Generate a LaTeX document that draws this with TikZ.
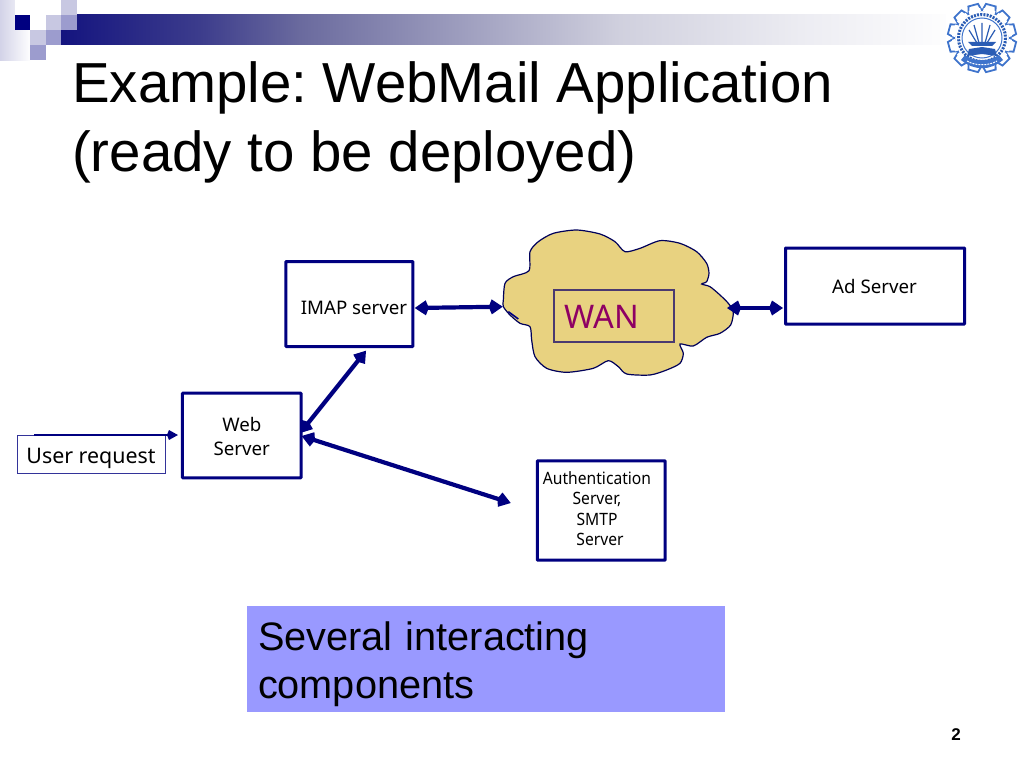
\documentclass[tikz,border=0pt]{standalone}
\usepackage{fontspec}
\setmainfont{Liberation Sans}
\newfontfamily\labelfont{Noto Sans}
\newfontfamily\narrowfont[FakeStretch=0.92]{Noto Sans}
\usetikzlibrary{arrows.meta}
\frenchspacing
\definecolor{navyline}{HTML}{000080}
\definecolor{sqlight}{HTML}{C8C8E2}
\definecolor{sqmid}{HTML}{9C9CCE}
\definecolor{cloudfill}{HTML}{E8D280}
\definecolor{wanred}{HTML}{8E0063}
\definecolor{notefill}{HTML}{9999FF}
\definecolor{logoblue}{HTML}{3F74CC}
\definecolor{logodark}{HTML}{2A5CB4}
\definecolor{wanline}{HTML}{4A3A70}
\definecolor{barA}{HTML}{14147F}
\definecolor{barB}{HTML}{3C3C8C}
\definecolor{barC}{HTML}{6A6A9E}
\definecolor{barD}{HTML}{D0D0DE}
\definecolor{barE}{HTML}{ECECF2}
\pgfdeclarehorizontalshading{barshade}{100bp}{color(0bp)=(barA); color(25bp)=(barA); color(32.2bp)=(barB); color(37.4bp)=(barC); color(54bp)=(barD); color(63.4bp)=(barE); color(71.7bp)=(white); color(100bp)=(white)}
\tikzset{
  srv/.style={draw=navyline,line width=3pt,inner sep=0pt,rounded corners=0.6pt},
  lab/.style={font=\labelfont\fontsize{18.7}{24}\selectfont,align=center,text=black,inner sep=0pt},
  dbl/.style={draw=navyline,line width=4.2pt,{Kite[length=14pt,width=15pt,inset=3pt]}-{Kite[length=14pt,width=15pt,inset=3pt]}},
  titletext/.style={font=\fontsize{56.4}{68.5}\selectfont,align=left,anchor=north west,inner sep=0pt,text=black},
}
\begin{document}
\begin{tikzpicture}[x=1pt,y=-1pt]
\useasboundingbox (0,0) rectangle (1024,768);
\fill[white] (0,0) rectangle (1024,768);
% decoration
\shade[left color=sqlight!80!white,right color=white] (0,0) rectangle (31,60);
\shade[shading=barshade] (61,15) rectangle (1024,45);
\fill[white] (15,0) rectangle (61,15);
\fill[white] (30,15) rectangle (46,30);
\fill[navyline] (15,15) rectangle (30,30);
\fill[sqlight] (46,15) rectangle (61,30);
\fill[sqmid] (61,15) rectangle (77,30);
\fill[sqlight] (61,0) rectangle (77,15);
\fill[sqlight] (30,30) rectangle (46,45);
\fill[sqmid] (46,30) rectangle (61,45);
\fill[sqmid] (30,45) rectangle (46,60);
% logo
\begin{scope}[shift={(982,38)}]
  \fill[white] (-36,-37) rectangle (36,38);
  \foreach \a in {0,30,...,330}{
    \draw[logoblue,line width=1.8pt,fill=white,rotate=\a+15] (-7,-26) -- (-5,-34) -- (5,-34) -- (7,-26);
  }
  \draw[logoblue,line width=1.8pt,fill=white] (0,0) circle (27.5);
  \fill[white] (0,0) circle (26.6);
  \foreach \a in {0,30,...,330}{
    \fill[white,rotate=\a+15] (-6,-29.5) rectangle (6,-26);
  }
  \draw[logodark,line width=3pt,dash pattern=on 2pt off 1.2pt] (0,0) circle (23.5);
  \draw[logoblue,line width=1pt] (0,0) circle (20);
  \draw[logodark,line width=1.2pt] (0,5) -- (0,-15) (-3,5) -- (-8,-13) (3,5) -- (8,-13) (-5,5) -- (-13,-8) (5,5) -- (13,-8);
  \fill[logodark] (-14,4) -- (14,4) -- (10,8) -- (-10,8) -- cycle;
  \fill[logodark] (-13,11) -- (0,9) -- (13,11) -- (15,18) -- (0,16) -- (-15,18) -- cycle;
  \fill[logoblue] (-21,22) .. controls (-8,33) and (8,33) .. (21,22) -- (17,17) .. controls (8,24) and (-8,24) .. (-17,17) -- cycle;
  \draw[white,line width=1pt,dash pattern=on 2pt off 1pt] (-15,23) .. controls (-7,28) and (7,28) .. (15,23);
\end{scope}
% title
\node[titletext] (title) at (72,61.7) {Example: WebMail Application\\(ready to be deployed)};
% cloud
\begin{scope}[shift={(490,220)},x=0.3333pt,y=-0.3333pt]
\draw[draw=navyline!70!black,line width=1.2pt,fill=cloudfill] plot[smooth cycle,tension=0.45] coordinates {
(40,240)(45,190)(70,170)(117,152)(120,95)(145,65)(190,40)(260,30)(330,42)(375,65)(405,95)(450,85)(510,62)(570,70)(620,95)(650,130)(657,160)(650,185)(635,192)(660,200)(690,225)(715,250)(730,275)(722,315)(690,340)(650,352)(610,378)(570,372)(580,400)(570,430)(530,450)(480,465)(410,462)(385,440)(355,422)(310,445)(230,457)(170,445)(135,410)(125,360)(120,320)(90,310)(60,285)(40,260)};
\draw[navyline,line width=1.6pt] (55,275) -- (85,297);
\end{scope}
\coordinate (cloudw) at (502.7,306.7);
\coordinate (cloude) at (727,308);
\coordinate (authend) at (510.7,503);
\coordinate (imapend) at (366,350.7);
\node[draw=wanline,line width=1.2pt,minimum width=120pt,minimum height=52pt,inner sep=0pt,label={[name=wantext,inner sep=0pt,text=wanred,font=\labelfont\fontsize{32.5}{36}\selectfont,xshift=-12.5pt,yshift=-0.5pt]center:WAN}] (wan) at (614,316) {};
% servers
\node[srv,minimum width=127pt,minimum height=85pt,label={[lab,name=imaptext,xshift=4.7pt,yshift=-4pt]center:IMAP server}] (imap) at (349.3,304) {};
\node[srv,minimum width=179pt,minimum height=76pt,label={[lab,name=adtext,xshift=-0.5pt,yshift=0pt]center:Ad Server}] (ad) at (875,286) {};
\node[srv,minimum width=118.7pt,minimum height=84.6pt,label={[lab,name=webtext,yshift=-0.5pt]center:Web\\Server}] (web) at (241.8,435.5) {};
\node[srv,minimum width=127.7pt,minimum height=99.4pt,label={[lab,name=authtext,xshift=-4.3pt,yshift=2pt,font=\narrowfont\fontsize{17}{20.4}\selectfont]center:Authentication\\Server,\\SMTP\\\hspace{6pt}Server}] (auth) at (601.3,510.5) {};
\node[draw=navyline!80!white,line width=1pt,minimum width=148pt,minimum height=38pt,inner sep=0pt,label={[name=usertext,inner sep=0pt,font=\labelfont\fontsize{21.4}{26}\selectfont,yshift=-4.5pt]center:User request}] (user) at (91,454) {};
% connectors
\path (imap.east) ++(0.5,4) coordinate (imapr);
\draw[dbl] (imapr) -- (cloudw);
\path (web.east) ++(-2.5,-2.5) coordinate (webu);
\draw[dbl] (webu) -- (imapend);
\path (web.east) ++(-1,0.5) coordinate (webd);
\draw[dbl] (webd) -- (authend);
\path (ad.west) ++(-1,22) coordinate (adl);
\draw[dbl] (adl) -- (cloude);
\path (user.north) ++(-57,0.5) coordinate (userst);
\path (user.north -| web.west) ++(-3,0.5) coordinate (userend);
\draw[navyline,line width=1.6pt,-{Kite[length=11pt,width=10pt,inset=2pt]}] (userst) -- (userend);
% note
\node[fill=notefill,minimum width=478pt,minimum height=106pt,inner sep=0pt,label={[name=notetext,inner sep=0pt,text width=456pt,font=\fontsize{39.7}{48}\selectfont,align=left,text=black,yshift=-5pt]center:Several interacting\\components}] (note) at (486,659) {};
\node[font=\bfseries\fontsize{17}{20}\selectfont,inner sep=0pt,text=black] (pagenum) at (956,735) {2};
\end{tikzpicture}
\end{document}
